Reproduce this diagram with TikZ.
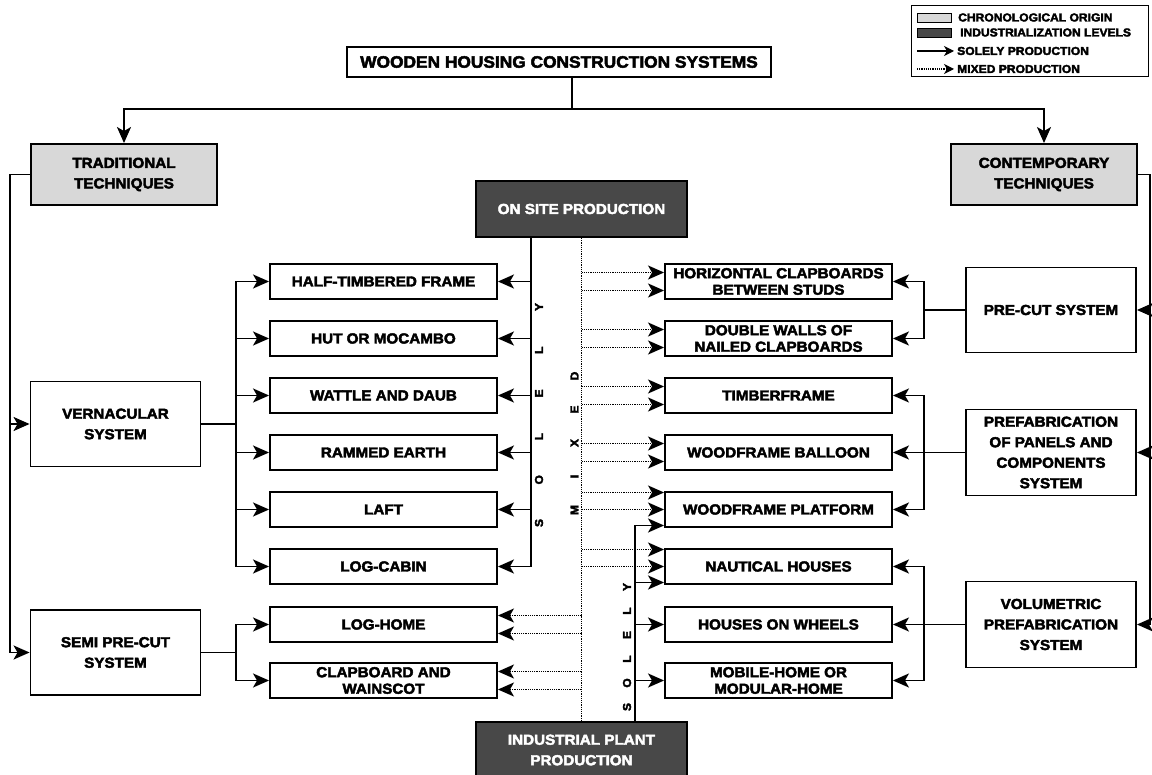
\documentclass[tikz,border=0pt]{standalone}
\usepackage{fontspec}
\setmainfont{Liberation Sans Bold}[FakeStretch=1.05, FakeBold=3]
\usetikzlibrary{arrows.meta,calc}
\definecolor{origin}{RGB}{216,216,216}
\definecolor{industry}{RGB}{72,72,72}
\tikzset{
    box/.style={draw,line width=1.9pt,minimum width=227pt,minimum height=35pt,inner sep=1pt,align=center,font=\fontsize{14.5}{16.5}\selectfont},
    sysbox/.style={box,minimum width=170pt,minimum height=85pt,font=\fontsize{14.5}{20.5}\selectfont},
    originbox/.style={sysbox,fill=origin,minimum width=186pt,minimum height=61pt},
    levelbox/.style={sysbox,fill=industry,text=white,minimum width=211pt,minimum height=56pt},
    wire/.style={line width=1.9pt},
    tip/.tip={Stealth[length=16pt,width=14pt,inset=4pt]},
    solidarr/.style={wire,-tip},
    dotwire/.style={line width=1.6pt,dash pattern=on 1.2pt off 1pt},
    dotarr/.style={dotwire,-tip},
    vlet/.style={rotate=90,inner sep=0pt,font=\fontsize{11.5}{12}\selectfont},
    legtext/.style={anchor=west,inner sep=0pt,font=\fontsize{11.5}{12}\selectfont}
}

\begin{document}
\begin{tikzpicture}[x=1pt,y=-1pt]
\useasboundingbox (0,0) rectangle (1152,775);

\node[box,minimum width=424pt,minimum height=30pt,font=\fontsize{16.5}{18}\selectfont] (title) at (559,62) {WOODEN HOUSING CONSTRUCTION SYSTEMS};
\node[originbox] (trad) at (124,174.5) {TRADITIONAL\\TECHNIQUES};
\node[originbox] (cont) at (1044,174.5) {CONTEMPORARY\\TECHNIQUES};

\node[levelbox] (onsite) at (581.5,209) {ON SITE PRODUCTION};
\node[levelbox] (plant) at (581.5,750) {INDUSTRIAL PLANT\\PRODUCTION};

\node[sysbox] (vern) at (115.5,424) {VERNACULAR\\SYSTEM};
\node[sysbox] (semi) at (115.5,652.5) {SEMI PRE-CUT\\SYSTEM};
\node[sysbox] (precut) at (1051,310) {PRE-CUT SYSTEM};
\node[sysbox,minimum height=86pt] (prefab) at (1051,452.5) {PREFABRICATION\\OF PANELS AND\\COMPONENTS\\SYSTEM};
\node[sysbox,minimum height=86pt] (volum) at (1051,624.5) {VOLUMETRIC\\PREFABRICATION\\SYSTEM};

\node[box] (half) at (383.5,281.5) {HALF-TIMBERED FRAME};
\node[box] (hut) at (383.5,338.5) {HUT OR MOCAMBO};
\node[box] (wattle) at (383.5,395.5) {WATTLE AND DAUB};
\node[box] (rammed) at (383.5,452.5) {RAMMED EARTH};
\node[box] (laft) at (383.5,509.5) {LAFT};
\node[box] (logcabin) at (383.5,566.5) {LOG-CABIN};
\node[box] (loghome) at (383.5,624.5) {LOG-HOME};
\node[box] (clapboard) at (383.5,680.5) {CLAPBOARD AND\\WAINSCOT};

\node[box] (horiz) at (778.5,281.5) {HORIZONTAL CLAPBOARDS\\BETWEEN STUDS};
\node[box] (double) at (778.5,338.5) {DOUBLE WALLS OF\\NAILED CLAPBOARDS};
\node[box] (timber) at (778.5,395.5) {TIMBERFRAME};
\node[box] (balloon) at (778.5,452.5) {WOODFRAME BALLOON};
\node[box] (platform) at (778.5,509.5) {WOODFRAME PLATFORM};
\node[box] (nautical) at (778.5,566.5) {NAUTICAL HOUSES};
\node[box] (wheels) at (778.5,624.5) {HOUSES ON WHEELS};
\node[box] (mobile) at (778.5,680.5) {MOBILE-HOME OR\\MODULAR-HOME};

\coordinate (lrail) at (10,0);
\coordinate (lbus) at (236,0);
\coordinate (sbus) at (531,0);
\coordinate (pbus) at (635,0);
\coordinate (rbus) at (924,0);
\coordinate (rrail) at (1150,0);

\draw[wire] ([xshift=13pt]title.south) -- ++(0,31) coordinate (split);
\draw[solidarr] (split) -| (trad.north);
\draw[solidarr] (split) -| (cont.north);

\draw[solidarr] (trad.west) -| (lrail |- vern.west) -- (vern.west);
\draw[solidarr] (trad.west) -| (lrail |- semi.west) -- (semi.west);
\draw[solidarr] (cont.east) -| (rrail |- precut.east) -- (precut.east);
\draw[solidarr] (cont.east) -| (rrail |- prefab.east) -- (prefab.east);
\draw[solidarr] (cont.east) -| (rrail |- volum.east) -- (volum.east);

\foreach \n in {half,hut,wattle,rammed,laft,logcabin}
    \draw[solidarr] (vern.east) -| (lbus |- \n.west) -- (\n.west);
\foreach \n in {loghome,clapboard}
    \draw[solidarr] (semi.east) -| (lbus |- \n.west) -- (\n.west);

\foreach \n in {horiz,double}
    \draw[solidarr] (precut.west) -| (rbus |- \n.east) -- (\n.east);
\draw[solidarr] (prefab.west) -- (balloon.east);
\foreach \n in {timber,platform}
    \draw[solidarr] (prefab.west) -| (rbus |- \n.east) -- (\n.east);
\draw[solidarr] (volum.west) -- (wheels.east);
\foreach \n in {nautical,mobile}
    \draw[solidarr] (volum.west) -| (rbus |- \n.east) -- (\n.east);

\foreach \n in {half,hut,wattle,rammed,laft,logcabin}
    \draw[solidarr] (sbus |- onsite.south) |- (\n.east);
\draw[dotwire] (onsite.south) -- (plant.north);
\foreach \n in {horiz,double,timber,balloon}{
    \draw[dotarr] ($(\n.west -| onsite.south)+(0,-9)$) -- ($(\n.west)+(0,-9)$);
    \draw[dotarr] ($(\n.west -| onsite.south)+(0,9)$) -- ($(\n.west)+(0,9)$);
}
\foreach \n in {platform,nautical}{
    \draw[dotarr] ($(\n.west -| onsite.south)+(0,-17)$) -- ($(\n.west)+(0,-17)$);
    \draw[dotarr] (\n.west -| onsite.south) -- (\n.west);
    \draw[solidarr] (pbus |- plant.north) |- ($(\n.west)+(0,16)$);
}
\foreach \n in {wheels,mobile}
    \draw[solidarr] (pbus |- plant.north) |- (\n.west);
\foreach \n in {loghome,clapboard}{
    \draw[dotarr] ($(\n.east -| onsite.south)+(0,-9)$) -- ($(\n.east)+(0,-9)$);
    \draw[dotarr] ($(\n.east -| onsite.south)+(0,9)$) -- ($(\n.east)+(0,9)$);
}

\foreach \l [count=\i] in {S,O,L,E,L,Y}
    \node[vlet] (site\i) at (539,{523-43.2*(\i-1)}) {\l};
\foreach \l [count=\i] in {M,I,X,E,D}
    \node[vlet] (mix\i) at (574.5,{510-33.5*(\i-1)}) {\l};
\foreach \l [count=\i] in {S,O,L,E,L,Y}
    \node[vlet] (fab\i) at (627,{707-24*(\i-1)}) {\l};

\node[draw,line width=1pt,minimum width=237pt,minimum height=71pt,inner sep=0pt] (legend) at (1029.5,41.5) {};
\node[draw,line width=0.8pt,fill=origin,minimum width=34pt,minimum height=9pt,inner sep=0pt] (keyorigin) at (934,17.5) {};
\node[draw,line width=0.8pt,fill=industry,minimum width=34pt,minimum height=9pt,inner sep=0pt] (keylevel) at (934,32.5) {};
\node[legtext] (txtorigin) at (958,17.5) {CHRONOLOGICAL ORIGIN};
\node[legtext] (txtlevel) at (960,32.5) {INDUSTRIALIZATION LEVELS};
\node[legtext] (txtsolid) at (957,51) {SOLELY PRODUCTION};
\node[legtext] (txtmixed) at (957,69) {MIXED PRODUCTION};
\coordinate (keysolid) at (917,51);
\coordinate (keymixed) at (917,69);
\draw[wire,line width=1.3pt,-{Stealth[length=10pt,width=10pt,inset=3pt]},shorten >=3pt] (keysolid) -- (txtsolid.west);
\draw[dotwire,line width=1.2pt,-{Stealth[length=10pt,width=10pt,inset=3pt]},shorten >=3pt] (keymixed) -- (txtmixed.west);

\end{tikzpicture}
\end{document}
